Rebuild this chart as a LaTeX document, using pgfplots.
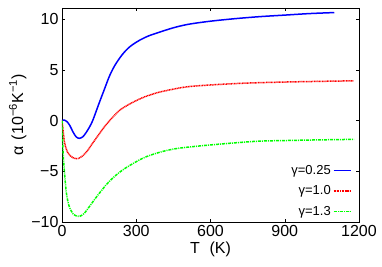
\documentclass[border=0pt]{standalone}
\usepackage{fontspec}
\setmainfont{Liberation Sans}
\usepackage{pgfplots}
\pgfplotsset{compat=1.18}
\begin{document}
\begin{tikzpicture}
\begin{axis}[
  scale only axis,
  width=297pt, height=214pt,
  xmin=0, xmax=1200, ymin=-10, ymax=11.1,
  xtick={0,300,600,900,1200},
  xticklabels={0,300,600,900,1200},
  ytick={-10,-5,0,5,10},
  yticklabels={−10,−5,0,5,10},
  tick align=inside,
  tick style={black, thin},
  major tick length=3pt,
  tick label style={font=\fontsize{16}{18}\selectfont},
  xlabel={T\hspace{0.6em}(K)},
  ylabel={α\hspace{0.4em}(10\textsuperscript{−6}K\textsuperscript{−1})},
  label style={font=\fontsize{16}{18}\selectfont},
  xlabel style={yshift=2pt},
  ylabel style={yshift=-2pt},
  legend style={draw=none, fill=none, at={(0.985,0.005)}, anchor=south east,
    font=\fontsize{13}{15}\selectfont, row sep=6pt},
  legend cell align=right,
  legend plot pos=right,
  axis line style={black},
]
\addplot[blue, line width=1.5pt, smooth] coordinates {
(0,0) (10,0.05) (20,-0.1) (31,-0.46) (44,-1.1) (57,-1.6) (70,-1.75) (84,-1.6) (97,-1.2) (112,-0.6) (124,0) (140,1.05) (152,1.85) (170,3.0) (192,4.4) (215,5.5) (245,6.55) (275,7.3) (312,7.9) (350,8.35) (392,8.7) (450,9.15) (512,9.5) (600,9.8) (700,10.05) (800,10.25) (900,10.4) (1000,10.55) (1100,10.65)
};
\addlegendentry{γ=0.25}
\addplot[red, line width=1.5pt, dash pattern=on 1pt off 0.6pt, smooth] coordinates {
(0,0) (5,-1.1) (11,-2.25) (24,-3.2) (44,-3.66) (64,-3.75) (85,-3.45) (105,-2.9) (119,-2.4) (145,-1.5) (172,-0.6) (200,0.2) (232,1.0) (260,1.45) (290,1.85) (330,2.3) (385,2.75) (450,3.1) (512,3.35) (625,3.55) (750,3.7) (900,3.8) (1050,3.87) (1180,3.92)
};
\addlegendentry{γ=1.0}
\addplot[green, line width=1.5pt, dash pattern=on 3pt off 1pt on 1pt off 1pt, smooth] coordinates {
(0,0) (3,-2.2) (6,-3.8) (11,-5.4) (17,-7.0) (24,-8.0) (31,-8.6) (45,-9.2) (60,-9.42) (71,-9.45) (90,-9.15) (110,-8.5) (145,-7.35) (191,-6.0) (245,-4.87) (325,-3.73) (391,-3.15) (465,-2.75) (600,-2.4) (780,-2.05) (900,-1.97) (1000,-1.92) (1180,-1.85)
};
\addlegendentry{γ=1.3}
\end{axis}
\path (current axis.south west) ++(-62pt,-45pt) coordinate (bl);
\path (current axis.north east) ++(23pt,8pt) coordinate (tr);
\path (bl) (tr);
\end{tikzpicture}
\end{document}
